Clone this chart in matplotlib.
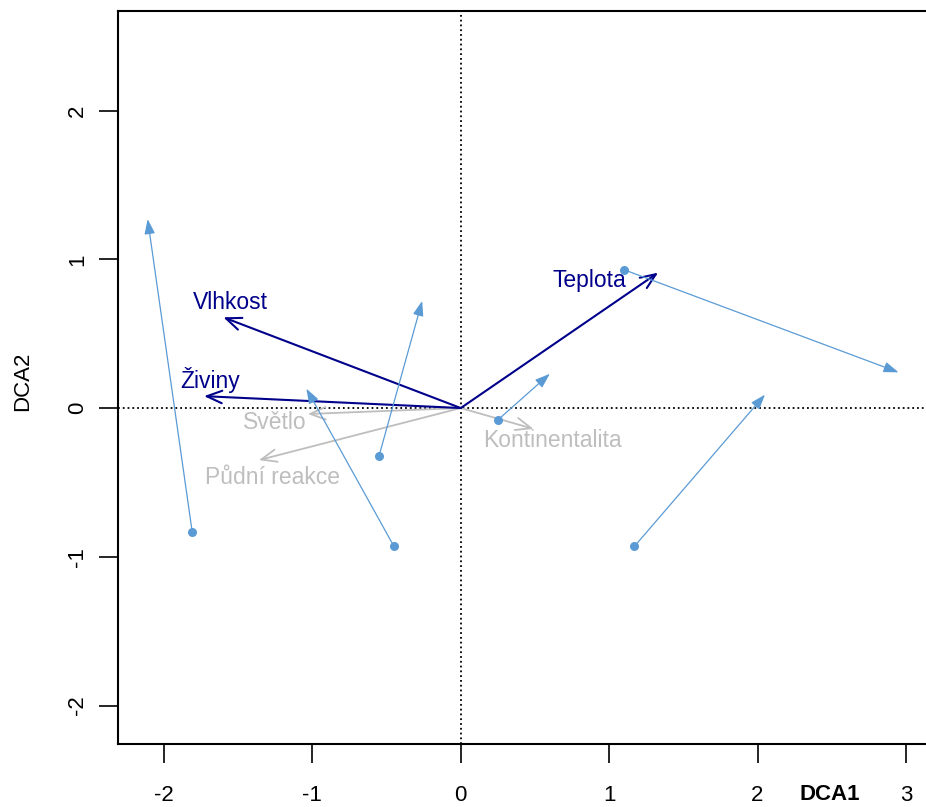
import matplotlib.pyplot as plt

plt.rcParams['font.family'] = ['Liberation Sans', 'DejaVu Sans']
plt.rcParams['axes.unicode_minus'] = False

# species shifts: start (DCA1, DCA2) -> end (DCA1, DCA2)
shift_x0 = [-1.81, -0.55, -0.45, 0.25, 1.10, 1.17]
shift_y0 = [-0.83, -0.32, -0.93, -0.08, 0.93, -0.93]
shift_x1 = [-2.11, -0.26, -1.04, 0.60, 2.95, 2.05]
shift_y1 = [1.27, 0.72, 0.13, 0.23, 0.24, 0.09]

# environmental vectors (significant ones in navy, the rest grey)
env_names = ['Teplota', 'Vlhkost', 'Živiny', 'Světlo', 'Půdní reakce', 'Kontinentalita']
env_x = [1.33, -1.60, -1.73, -1.03, -1.36, 0.49]
env_y = [0.91, 0.61, 0.08, -0.04, -0.35, -0.14]
env_lab_x = [0.87, -1.55, -1.69, -1.25, -1.27, 0.62]
env_lab_y = [0.86, 0.71, 0.19, -0.10, -0.47, -0.22]
env_signif = [True, True, True, False, False, False]

blue = '#5b9bd5'
navy = '#00008b'
grey = '#bebebe'

fig = plt.figure(figsize=(9.26, 8.07), dpi=100)
ax = fig.add_axes([117.5 / 926, 63.5 / 807, 812.5 / 926, 732.5 / 807])
ax.set_xlim(-2.313, 3.162)
ax.set_ylim(-2.255, 2.669)

ax.axhline(0, color='black', ls=':', lw=1.3, zorder=1)
ax.axvline(0, color='black', ls=':', lw=1.3, zorder=1)

for x, y, lx, ly, name, sig in zip(env_x, env_y, env_lab_x, env_lab_y, env_names, env_signif):
    col = navy if sig else grey
    lw = 1.5 if sig else 1.3
    ax.annotate('', xy=(x, y), xytext=(0, 0),
                arrowprops=dict(arrowstyle='->,head_length=1.1,head_width=0.45',
                                color=col, lw=lw, shrinkA=0, shrinkB=0,
                                mutation_scale=10), zorder=3 if sig else 2)
    ax.text(lx, ly, name, color=col, fontsize=16.5, ha='center', va='center',
            zorder=4)

for x0, y0, x1, y1 in zip(shift_x0, shift_y0, shift_x1, shift_y1):
    ax.annotate('', xy=(x1, y1), xytext=(x0, y0),
                arrowprops=dict(arrowstyle='-|>,head_length=0.9,head_width=0.32',
                                color=blue, lw=0.9, shrinkA=0, shrinkB=0,
                                mutation_scale=10), zorder=5)
ax.plot(shift_x0, shift_y0, 'o', color=blue, ms=6.5, mec='none', zorder=6)

ax.set_xticks([-2, -1, 0, 1, 2, 3])
ax.set_yticks([-2, -1, 0, 1, 2])
ax.tick_params(axis='both', length=14, width=1.2, labelsize=16)
ax.tick_params(axis='x', pad=16)
ax.tick_params(axis='y', pad=7)
for lab in ax.get_yticklabels():
    lab.set_rotation(90)
    lab.set_va('center')
for s in ax.spines.values():
    s.set_linewidth(1.5)

fig.text(830 / 926, 1 - 795 / 807, 'DCA1', fontsize=16, fontweight='bold',
         ha='center', va='center')
fig.text(22.5 / 926, 1 - 381 / 807, 'DCA2', fontsize=16, rotation=90,
         ha='center', va='center')

plt.savefig('out.png', dpi=100)
